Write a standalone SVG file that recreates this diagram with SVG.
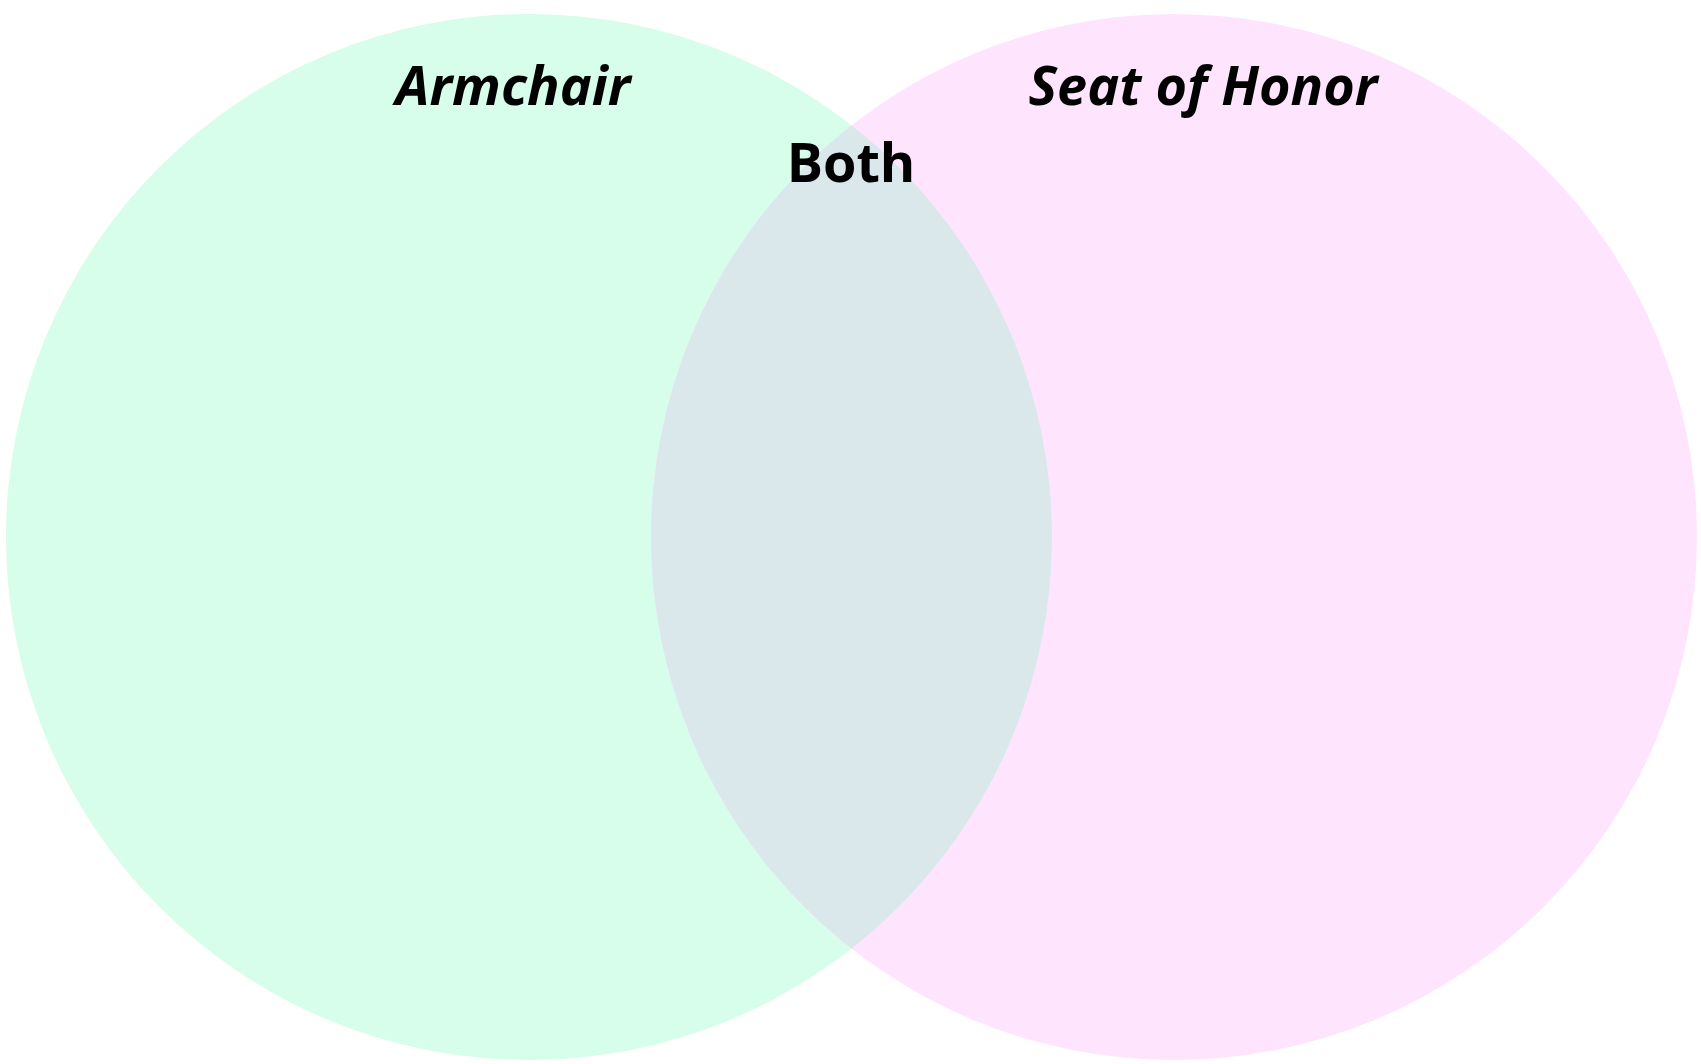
<svg xmlns="http://www.w3.org/2000/svg" width="1701" height="1064" viewBox="0 0 1701 1064">
<style>
.lbl{font-family:"Open Sans","Liberation Sans",sans-serif;font-weight:700;fill:#000;text-anchor:middle}
.set{font-style:italic;font-size:54px}
.both{font-size:54px}
</style>
<defs>
<clipPath id="clipL"><circle cx="529" cy="537" r="523"/></clipPath>
</defs>
<rect width="1701" height="1064" fill="#fff"/>
<g id="set-armchair">
<circle cx="529" cy="537" r="523" fill="#d7fdeb"/>
</g>
<g id="set-seat-of-honor">
<circle cx="1174" cy="537" r="523" fill="#fee5fd"/>
</g>
<g id="overlap">
<circle cx="1174" cy="537" r="523" fill="#dae8ec" clip-path="url(#clipL)"/>
</g>
<g id="connectors"/>
<text class="lbl set" x="513" y="105">Armchair</text>
<text class="lbl set" x="1203" y="105">Seat of Honor</text>
<text class="lbl both" x="851" y="182">Both</text>
</svg>
